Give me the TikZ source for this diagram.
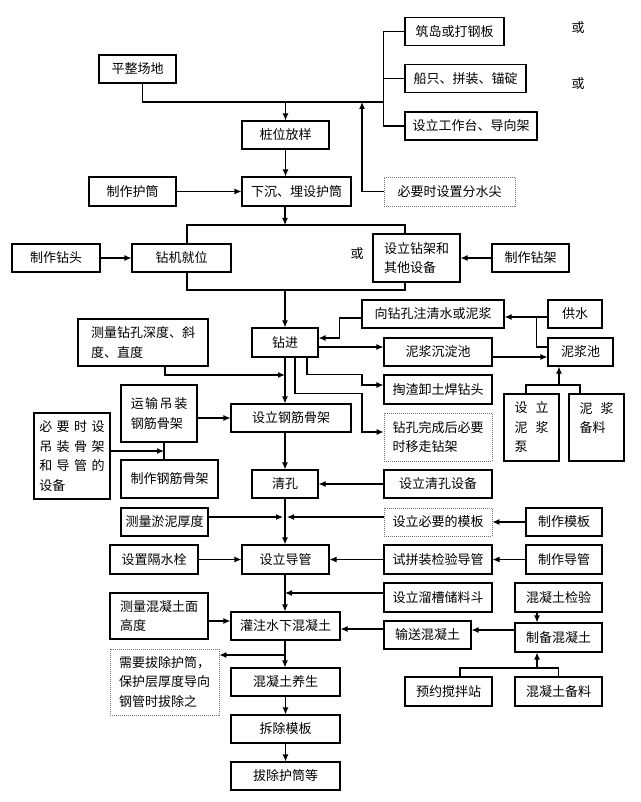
\documentclass[tikz,border=0pt]{standalone}
\usepackage{fontspec}
\newfontfamily\cjk{Noto Sans CJK SC}
\usetikzlibrary{arrows.meta}

\begin{document}
\begin{tikzpicture}[x=1pt,y=-1pt,
    word/.style={font=\cjk\fontsize{13pt}{19.5pt}\selectfont},
    box/.style={word,draw,line width=1.1pt,fill=white,minimum height=28pt,inner sep=0pt},
    tbox/.style={box,align=left},
    dbox/.style={box,align=left,draw=black!55,line width=0.9pt,dash pattern=on 1pt off 1pt},
    ln/.style={line width=1.1pt},
    arr/.style={ln,-{Latex[length=7pt,width=6pt]}}]
    \useasboundingbox (0,0) rectangle (640,802);

    \coordinate (top) at (384,102);
    \coordinate (fs) at (362,102);
    \coordinate (rack) at (285,225);
    \coordinate (rackb) at (285,290);
    \draw[ln] (187,225) rectangle (405,290);

    \node[box,minimum width=99pt] (zhudao) at (454.5,31.5) {筑岛或打钢板};
    \node[box,minimum width=121pt] (chuanzhi) at (465.5,78.5) {船只、拼装、锚碇};
    \node[box,minimum width=132pt] (gongzuotai) at (471,126) {设立工作台、导向架};
    \node[word] (huo1) at (578,28) {或};
    \node[word] (huo2) at (578,84) {或};
    \node[box,minimum width=77pt] (pingzheng) at (137.5,69) {平整场地};
    \node[box,minimum width=87pt] (zhuangwei) at (285.5,135) {桩位放样};
    \node[dbox,minimum width=131pt,minimum height=29pt] (fenshui) at (449.5,191.5) {必要时设置分水尖};
    \node[box,minimum width=109pt,minimum height=29pt] (xiachen) at (296.5,191.5) {下沉、埋设护筒};
    \node[box,minimum width=87pt,minimum height=29pt] (zhihutong) at (132.5,191.5) {制作护筒};

    \node[box,minimum width=88pt] (zuantou) at (56,258) {制作钻头};
    \node[box,minimum width=99pt] (jiuwei) at (181.5,258) {钻机就位};
    \node[word] (huo3) at (357,254) {或};
    \node[tbox,minimum width=87pt,minimum height=48pt] (zuanjia) at (416.5,258) {设立钻架和\\其他设备};
    \node[box,minimum width=77pt] (zhizuanjia) at (530.5,258) {制作钻架};

    \node[box,minimum width=66pt,minimum height=29pt] (zuanjin) at (285,342.5) {钻进};
    \node[box,minimum width=142pt] (zhushui) at (433,314) {向钻孔注清水或泥浆};
    \node[box,minimum width=108pt] (chendian) at (438,352) {泥浆沉淀池};
    \node[box,minimum width=54pt] (gongshui) at (575,314) {供水};
    \node[box,minimum width=65pt] (nijiangchi) at (580.5,352) {泥浆池};
    \node[tbox,minimum width=130pt,minimum height=47pt] (zuankong) at (143,342.5) {测量钻孔深度、斜\\度、直度};
    \node[box,minimum width=108pt,minimum height=29pt] (taozha) at (438,389.5) {掏渣卸土焊钻头};
    \node[dbox,minimum width=108pt,minimum height=48pt] (yizou) at (438,437) {钻孔完成后必要\\时移走钻架};
    \node[tbox,minimum width=55pt,minimum height=67pt] (nijiangbeng) at (531.5,427.5) {设\hspace{8pt}立\\泥\hspace{8pt}浆\\泵};
    \node[tbox,minimum width=55pt,minimum height=67pt] (nijiangliao) at (596.5,427.5) {泥\hspace{8pt}浆\\备料\\\mbox{}};

    \node[tbox,minimum width=76pt,minimum height=57pt] (yunshu) at (159,413.5) {运\hspace{1.5pt}输\hspace{1.5pt}吊\hspace{1.5pt}装\\钢筋骨架};
    \node[box,minimum width=120pt] (gangjin) at (291,418) {设立钢筋骨架};
    \node[tbox,minimum width=76pt,minimum height=86pt] (diaozhuang) at (72,456) {必\hspace{4.5pt}要\hspace{4.5pt}时\hspace{4.5pt}设\\吊\hspace{4.5pt}装\hspace{4.5pt}骨\hspace{4.5pt}架\\和\hspace{4.5pt}导\hspace{4.5pt}管\hspace{4.5pt}的\\设备};
    \node[box,minimum width=97pt,minimum height=38pt] (zhigangjin) at (169.5,479) {制作钢筋骨架};
    \node[box,minimum width=66pt] (qingkong) at (285,484) {清孔};
    \node[box,minimum width=108pt] (qkshebei) at (438,484) {设立清孔设备};
    \node[box,minimum width=87pt] (yuni) at (164.5,522) {测量淤泥厚度};
    \node[dbox,minimum width=108pt] (muban) at (438,522) {设立必要的模板};
    \node[box,minimum width=76pt] (zhimuban) at (564,522) {制作模板};

    \node[box,minimum width=87pt,minimum height=29pt] (daoguan) at (285.5,559.5) {设立导管};
    \node[box,minimum width=88pt,minimum height=29pt] (geshui) at (154,559.5) {设置隔水栓};
    \node[box,minimum width=108pt,minimum height=29pt] (shipin) at (438,559.5) {试拼装检验导管};
    \node[box,minimum width=76pt,minimum height=29pt] (zhidaoguan) at (564,559.5) {制作导管};
    \node[box,minimum width=108pt,minimum height=29pt] (liucao) at (438,597.5) {设立溜槽储料斗};
    \node[tbox,minimum width=98pt,minimum height=46pt] (cemian) at (159,616) {测量混凝土面\\高度};
    \node[box,minimum width=109pt] (guanzhu) at (285.5,626) {灌注水下混凝土};
    \node[box,minimum width=87pt] (shusong) at (427.5,635) {输送混凝土};
    \node[box,minimum width=87pt,minimum height=29pt] (jianyan) at (558.5,597.5) {混凝土检验};
    \node[box,minimum width=87pt,minimum height=29pt] (zhibei) at (558.5,637.5) {制备混凝土};
    \node[box,minimum width=87pt,minimum height=29pt] (yuyue) at (448.5,691.5) {预约搅拌站};
    \node[box,minimum width=87pt,minimum height=29pt] (beiliao) at (558.5,691.5) {混凝土备料};
    \node[dbox,minimum width=109pt,minimum height=66pt] (bachu) at (164.5,682) {需要拔除护筒，\\保护层厚度导向\\钢管时拔除之};
    \node[box,minimum width=109pt] (yangsheng) at (285.5,682) {混凝土养生};
    \node[box,minimum width=109pt] (chaichu) at (285.5,729) {拆除模板};
    \node[box,minimum width=109pt] (bachuhutong) at (285.5,776) {拔除护筒等};

    \draw[ln] ([xshift=5pt]pingzheng.south) |- (top);
    \draw[ln] (zhudao.west) -- ++(-21,0) |- (gongzuotai.west);
    \draw[ln] (chuanzhi.west) -- ++(-21,0);
    \draw[arr] (zhuangwei.north |- top) -- (zhuangwei.north);
    \draw[arr] (fenshui.west) -| (fs);
    \draw[arr] (zhuangwei) -- (zhuangwei |- xiachen.north);
    \draw[arr] (zhihutong) -- (xiachen);
    \draw[arr] (xiachen.south -| rack) -- (rack);
    \draw[arr] (zuantou) -- (jiuwei);
    \draw[arr] (zhizuanjia) -- (zuanjia);
    \draw[arr] (rackb) -- (zuanjin.north);

    \draw[arr] ([yshift=-4pt]zhushui.west) -- ++(-22,0) |- ([yshift=4.5pt]zuanjin.east);
    \draw[arr] ([yshift=-4.5pt]zuanjin.east) -- ([yshift=-4.5pt]zuanjin.east -| chendian.west);
    \draw[arr] ([yshift=-3pt]gongshui.west) -- ([yshift=-3pt]gongshui.west -| zhushui.east);
    \draw[ln] ([yshift=5pt]nijiangchi.west) -| ([xshift=-11pt,yshift=-3pt]gongshui.west);
    \draw[arr] ([yshift=-5pt]chendian.east) -- ([yshift=-5pt]chendian.east -| nijiangchi.west);
    \coordinate (pb) at (559,385);
    \draw[ln] ([xshift=-5.5pt]nijiangbeng.north) |- (pb) -| ([xshift=-16.5pt]nijiangliao.north);
    \draw[arr] (pb) -- (pb |- nijiangchi.south);

    \coordinate (m1) at (285,375);
    \draw[arr] ([xshift=22pt]zuankong.south) |- (m1);
    \draw[arr] ([xshift=22pt]zuanjin.south) -- ++(0,17) -- ++(55,0) |- ([yshift=4.5pt]taozha.west);
    \draw[arr] ([xshift=10pt]zuanjin.south) -- ++(0,36) -- ++(67,0) |- ([yshift=5pt]yizou.west);
    \draw[arr] (zuanjin) -- (zuanjin |- gangjin.north);
    \draw[arr] ([yshift=-4.5pt]yunshu.east) -- ([yshift=-4.5pt]yunshu.east -| gangjin.west);
    \draw[ln] ([xshift=5pt]yunshu.south) -- ([xshift=5pt]yunshu.south |- zhigangjin.north);
    \coordinate (yj) at (164,451);
    \draw[arr] (diaozhuang.east |- yj) -- (yj);
    \draw[arr] (gangjin.south -| qingkong) -- (qingkong.north);
    \draw[arr] (qkshebei) -- (qingkong);
    \draw[arr] (qingkong) -- (qingkong |- daoguan.north);
    \coordinate (yn) at (285,517);
    \draw[arr] ([yshift=5pt]yuni.east) -- ([xshift=-2pt]yn);
    \draw[arr] ([yshift=5pt]muban.west) -- ([xshift=2pt]yn);
    \draw[arr] (zhimuban) -- (muban);

    \draw[arr] (geshui) -- (daoguan);
    \draw[arr] (shipin) -- (daoguan);
    \draw[arr] (zhidaoguan) -- (shipin);
    \draw[arr] (daoguan.south -| qingkong) -- (qingkong |- guanzhu.north);
    \draw[arr] ([yshift=4.5pt]liucao.west) -- ([yshift=4.5pt]liucao.west -| qingkong);
    \draw[arr] ([yshift=-5pt]cemian.east) -- ([yshift=-5pt]cemian.east -| guanzhu.west);
    \draw[arr] ([yshift=6pt]shusong.west) -- ([yshift=6pt]shusong.west -| guanzhu.east);
    \draw[arr] ([yshift=7.5pt]zhibei.west) -- ([yshift=7.5pt]zhibei.west -| shusong.east);
    \draw[arr] ([xshift=-21.5pt]jianyan.south) -- ([xshift=-21.5pt]zhibei.north);
    \coordinate (hb) at (537,668);
    \draw[ln] ([xshift=11.5pt]yuyue.north) |- (hb) -| (beiliao.north);
    \draw[arr] (hb) -- (hb |- zhibei.south);
    \draw[arr] (guanzhu.south -| qingkong) -- (qingkong |- yangsheng.north);
    \coordinate (bc) at (285,655);
    \draw[arr] (bc) -- (bc -| bachu.east);
    \draw[arr] (yangsheng) -- (chaichu);
    \draw[arr] (chaichu) -- (bachuhutong);
\end{tikzpicture}
\end{document}
